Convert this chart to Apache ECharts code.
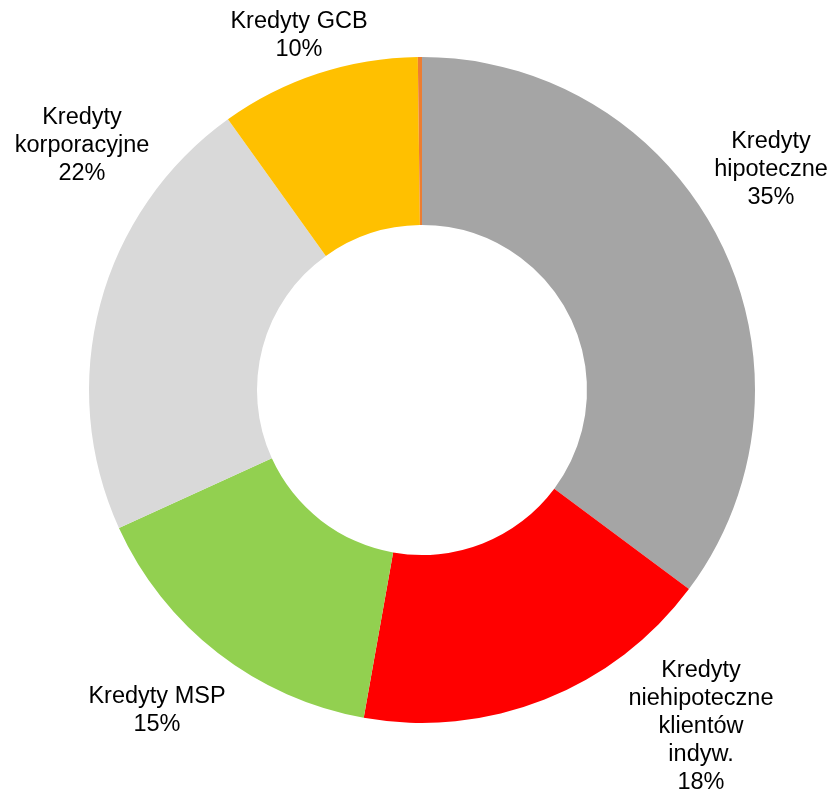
<!DOCTYPE html>
<html>
<head>
<meta charset="utf-8">
<script src="https://cdn.jsdelivr.net/npm/echarts@6/dist/echarts.min.js"></script>
<style>
  html, body { margin: 0; padding: 0; background: #fff; }
  #chart { width: 834px; height: 795px; }
</style>
</head>
<body>
<div id="chart"></div>
<script>
// kategorie i udziały (w %)
var categories = [
  'Kredyty\nhipoteczne',
  'Kredyty\nniehipoteczne\nklientów\nindyw.',
  'Kredyty MSP',
  'Kredyty\nkorporacyjne',
  'Kredyty GCB',
  'Inne'
];
var values = [35.2, 17.6, 15.4, 21.9, 9.7, 0.2];
var colors = ['#A5A5A5', '#FF0000', '#92D050', '#D9D9D9', '#FFC000', '#ED7D31'];

// środki etykiet jak w oryginale (Excel "best fit")
var labelPos = [
  [771, 170],
  [701, 727],
  [157, 711],
  [82, 146],
  [299, 36],
  [0, 0]
];

var chart = echarts.init(document.getElementById('chart'));

var data = categories.map(function (name, i) {
  return {
    name: name,
    value: values[i],
    itemStyle: { color: colors[i] },
    label: { show: i < 5 }
  };
});

chart.setOption({
  animation: false,
  series: [
    {
      type: 'pie',
      center: [422, 390],
      radius: [165, 333],
      startAngle: 90,
      clockwise: true,
      avoidLabelOverlap: false,
      data: data,
      itemStyle: { borderWidth: 0 },
      label: {
        position: 'outside',
        fontFamily: 'Liberation Sans, Arial, sans-serif',
        fontSize: 23.5,
        lineHeight: 28,
        color: '#000',
        align: 'center',
        formatter: function (p) {
          return p.name + '\n' + Math.round(p.percent) + '%';
        }
      },
      labelLine: { show: false },
      labelLayout: function (params) {
        var p = labelPos[params.dataIndex];
        return { x: p[0], y: p[1], align: 'center', verticalAlign: 'middle' };
      },
      emphasis: { disabled: true }
    }
  ]
});
</script>
</body>
</html>
